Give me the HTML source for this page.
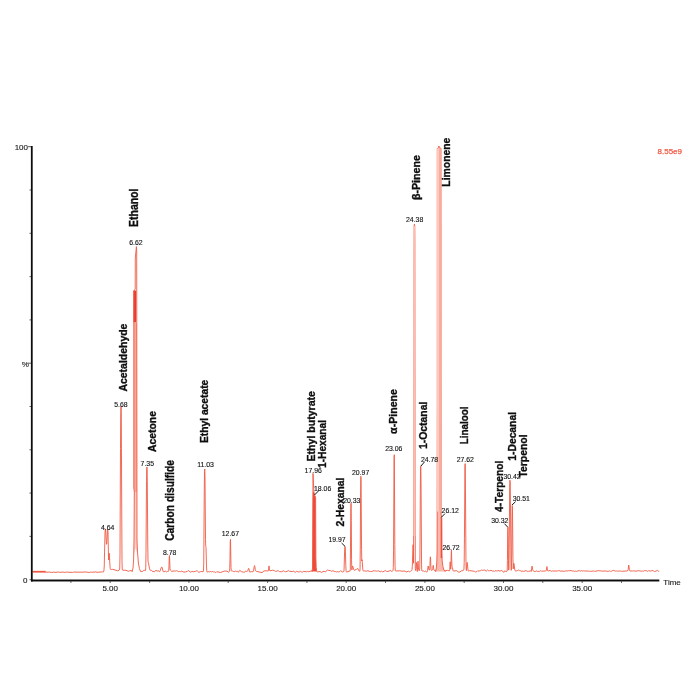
<!DOCTYPE html>
<html><head><meta charset="utf-8"><title>Chromatogram</title>
<style>
html,body{margin:0;padding:0;background:#fff;}
body{width:700px;height:700px;overflow:hidden;}
svg{display:block;}
text{font-family:"Liberation Sans",sans-serif;}
.c{font-weight:bold;font-size:12.5px;fill:#111;stroke:#111;stroke-width:0.35px;}
.t{font-size:6.9px;fill:#111;stroke:#111;stroke-width:0.12px;}
.a{font-size:8px;fill:#111;stroke:#111;stroke-width:0.1px;}
</style></head><body>
<svg width="700" height="700" viewBox="0 0 700 700">
<defs><filter id="b" x="-5%" y="-5%" width="110%" height="110%"><feGaussianBlur stdDeviation="0.35"/></filter><filter id="t" x="-2%" y="-2%" width="104%" height="104%"><feGaussianBlur stdDeviation="0.3"/></filter></defs>
<rect width="700" height="700" fill="#fff"/>
<g filter="url(#b)">
<polygon points="435.6,571.6 436.3,568.0 436.8,562.0 437.1,550.0 437.3,400.0 437.3,148.6 438.3,147.6 438.9,146.0 439.5,147.5 440.9,148.4 441.0,400.0 441.1,514.0 441.6,517.5 441.8,553.0 442.2,561.0 442.9,566.5 444.0,570.0 445.2,571.5" fill="#fbb8ac"/>
<polygon points="133.8,323.0 133.8,488.0 134.3,492.0 136.9,492.0 136.8,323.0" fill="#f9a595"/>
<polygon points="133.7,556.0 134.0,540.0 134.3,492.0 136.9,492.0 137.0,540.0 137.6,554.0 135.6,548.0" fill="#fccdc4"/>
<rect x="133.4" y="290.5" width="2.8" height="32" fill="#ea3a32"/>
<polygon points="312.8,500.0 312.9,492.0 313.9,492.0 314.7,495.2 315.6,497.5 315.9,558.0 316.2,567.5 316.8,571.5 312.1,571.6 312.5,568.0" fill="#ee4a3a"/>
<rect x="440.7" y="518" width="1.5" height="40" fill="#ec4033"/>
<line x1="32.8" y1="571.7" x2="45.5" y2="571.7" stroke="#ef5a44" stroke-width="1.7"/>
<path d="M32.80,571.7 L45.50,571.7 L45.50,572.2 L49.50,572.1 L51.75,572.5 L53.50,572.1 L55.00,572.4 L58.25,572.0 L59.25,572.3 L64.00,572.1 L64.75,572.5 L66.75,572.0 L67.75,572.2 L72.75,572.4 L73.50,572.1 L83.00,572.2 L83.75,572.0 L87.00,572.1 L89.25,572.5 L90.75,572.0 L91.75,572.3 L95.75,571.9 L97.00,572.3 L102.50,571.9 L103.25,572.1 L103.50,571.9 L103.75,571.1 L104.00,569.8 L104.25,566.0 L105.00,532.5 L105.25,528.9 L105.50,529.4 L105.75,532.0 L106.25,541.4 L106.50,544.3 L106.75,543.6 L107.50,530.3 L107.75,529.3 L108.00,531.7 L108.50,557.4 L108.75,560.0 L109.00,555.2 L109.25,553.3 L110.00,566.5 L110.25,568.6 L110.50,569.3 L111.75,569.5 L112.75,569.3 L117.75,570.8 L119.00,570.2 L119.50,569.8 L119.75,568.0 L120.00,554.3 L120.50,448.3 L120.75,412.5 L121.00,406.7 L121.25,414.0 L122.00,561.3 L122.25,569.5 L122.50,570.1 L124.00,570.3 L125.00,570.1 L127.00,570.6 L128.25,571.4 L129.75,570.7 L131.50,570.7 L132.00,570.3 L132.20,571.6 L133.00,568.0 L133.60,560.0 L134.00,540.0 L134.30,492.0 L133.80,488.0 L133.80,323.0 L133.90,291.0 L135.20,289.0 L135.30,258.0 L136.40,246.6 L136.70,251.0 L137.00,540.0 L137.50,552.0 L138.40,563.0 L139.40,568.5 L140.50,571.5 L140.75,571.3 L142.25,571.6 L143.25,570.7 L144.25,570.3 L145.25,570.6 L145.50,570.5 L145.75,567.9 L146.00,552.3 L146.50,481.3 L146.75,467.5 L147.00,467.0 L147.25,476.6 L147.75,544.1 L148.00,561.1 L148.25,562.7 L148.50,562.8 L149.50,568.8 L149.75,569.7 L150.00,570.2 L150.75,570.3 L151.25,570.2 L151.50,570.4 L152.25,571.3 L154.50,571.6 L156.00,570.3 L157.00,571.1 L158.50,570.9 L159.25,571.5 L159.75,571.6 L161.25,567.6 L161.50,567.1 L161.75,567.0 L162.00,567.1 L162.25,567.8 L163.00,571.1 L163.25,571.6 L163.50,571.9 L164.00,571.9 L165.25,571.1 L166.50,571.9 L167.25,571.4 L168.25,571.4 L168.50,571.3 L168.75,570.2 L169.00,565.3 L169.25,556.9 L169.50,555.5 L170.00,568.9 L170.25,570.2 L170.50,570.2 L171.75,571.4 L174.00,570.9 L175.50,571.1 L176.50,570.7 L177.25,570.9 L178.50,571.6 L179.75,571.5 L180.50,571.6 L181.50,571.2 L183.75,572.0 L185.25,572.0 L187.50,571.3 L188.50,570.3 L190.25,572.2 L191.25,571.8 L192.00,571.2 L193.25,571.8 L195.50,571.3 L196.25,570.8 L197.50,571.1 L198.75,572.3 L199.00,572.4 L200.25,571.6 L203.00,571.7 L203.25,571.6 L203.50,570.9 L203.75,563.0 L204.25,492.8 L204.50,471.3 L204.75,469.0 L205.00,476.7 L205.50,539.4 L205.75,546.2 L206.00,547.3 L206.50,566.1 L206.75,570.7 L207.00,571.9 L207.25,572.0 L208.75,571.6 L209.50,571.8 L210.50,571.5 L211.50,571.8 L212.50,571.5 L213.50,571.9 L214.75,571.9 L215.50,572.6 L215.75,572.7 L216.75,571.7 L220.50,572.5 L224.25,571.1 L227.00,571.1 L228.50,572.3 L229.25,571.3 L229.50,570.8 L229.75,568.2 L230.00,558.3 L230.25,541.7 L230.50,539.4 L231.00,567.6 L231.25,570.7 L231.50,571.0 L232.25,570.9 L233.25,571.5 L234.25,571.7 L235.25,571.0 L236.25,571.5 L237.25,571.1 L238.25,572.2 L238.50,572.2 L239.50,570.6 L239.75,570.3 L241.25,571.6 L243.50,572.1 L244.00,572.5 L244.25,572.6 L245.25,571.2 L245.50,571.1 L246.75,571.5 L247.25,571.4 L247.75,570.6 L248.50,568.5 L248.75,568.3 L249.00,568.9 L249.50,571.8 L249.75,572.1 L251.50,571.6 L253.00,571.7 L253.25,571.5 L253.50,571.0 L254.25,566.4 L254.50,565.6 L254.75,566.2 L255.25,569.3 L255.50,570.4 L255.75,571.0 L256.25,571.3 L262.00,572.6 L264.00,570.9 L267.00,570.8 L268.25,571.0 L268.50,570.7 L269.00,565.9 L269.50,570.4 L269.75,570.7 L271.00,570.7 L272.25,570.2 L274.50,570.7 L275.75,571.5 L276.00,571.5 L277.25,570.8 L278.50,570.9 L279.50,571.6 L281.75,571.7 L283.25,570.8 L283.50,570.8 L284.75,571.6 L285.50,571.8 L287.00,571.4 L288.25,570.6 L288.50,570.6 L289.25,571.2 L292.25,571.6 L293.75,571.1 L294.75,572.3 L295.50,572.1 L296.50,571.4 L296.75,571.3 L298.25,571.9 L299.25,571.9 L300.75,571.3 L301.50,572.0 L302.50,572.1 L303.75,571.3 L306.25,571.8 L307.75,571.3 L308.75,571.7 L310.00,571.4 L311.00,570.8 L312.00,571.0 L312.10,571.6 L312.50,568.0 L313.00,473.4 L313.90,492.0 L314.70,495.2 L315.60,497.5 L315.90,558.0 L316.20,567.5 L316.80,571.5 L317.05,571.8 L317.30,571.9 L320.05,571.5 L321.30,572.4 L324.05,571.2 L325.05,572.1 L327.55,570.0 L327.80,569.9 L328.80,570.5 L330.30,570.5 L331.80,571.4 L332.80,570.6 L333.05,570.7 L334.05,571.4 L335.30,571.5 L336.30,572.0 L337.05,571.5 L337.30,571.5 L338.05,572.0 L339.55,571.7 L340.55,570.7 L340.80,570.7 L342.30,572.1 L343.55,571.6 L343.80,571.6 L344.05,569.9 L344.55,553.0 L344.80,547.3 L345.05,546.4 L345.30,548.0 L345.80,565.6 L346.05,570.6 L346.30,571.8 L346.55,572.1 L349.80,571.0 L350.05,571.1 L350.30,569.5 L350.80,508.9 L351.05,503.2 L351.30,520.5 L351.55,559.9 L351.80,570.0 L352.05,568.9 L352.30,567.1 L352.55,566.0 L352.80,566.2 L353.55,569.2 L353.80,569.9 L354.05,570.2 L354.80,570.3 L356.05,569.3 L356.30,569.3 L356.55,569.4 L357.30,568.6 L357.80,568.4 L358.55,570.3 L358.80,570.7 L359.80,571.2 L360.05,569.0 L360.30,545.2 L360.55,497.4 L360.80,476.2 L361.05,477.5 L361.55,549.6 L361.80,561.0 L362.05,559.7 L362.80,569.2 L363.05,570.6 L363.30,571.0 L363.55,571.1 L364.80,570.8 L366.30,571.3 L367.05,570.7 L370.55,571.5 L371.80,571.5 L374.05,570.5 L374.30,570.6 L374.80,571.3 L375.05,571.3 L375.80,570.6 L376.55,571.2 L377.55,570.9 L378.55,570.9 L380.30,571.8 L381.30,571.1 L382.55,571.8 L382.80,571.9 L384.80,570.8 L385.80,570.7 L386.55,571.4 L386.80,571.5 L389.05,571.2 L390.30,570.2 L391.30,571.4 L392.05,571.3 L392.80,570.8 L393.05,570.4 L393.30,567.4 L393.55,550.2 L394.05,459.3 L394.30,454.7 L394.80,544.3 L395.05,566.4 L395.30,570.7 L395.55,571.0 L399.80,570.8 L402.05,571.2 L405.05,571.0 L405.80,571.8 L407.05,571.9 L408.05,571.0 L408.30,571.1 L409.55,571.9 L409.80,571.9 L410.80,570.8 L411.55,570.6 L411.80,570.4 L412.05,569.5 L412.30,566.3 L413.05,544.7 L413.30,550.5 L413.55,563.3 L413.80,472.2 L414.05,260.5 L414.30,224.3 L414.55,224.2 L414.80,243.5 L415.30,568.3 L415.55,570.5 L415.80,570.3 L416.05,569.3 L416.55,562.5 L416.80,564.8 L417.05,569.6 L417.30,571.5 L417.55,569.1 L417.80,563.6 L418.05,561.2 L418.55,569.3 L418.80,570.5 L419.05,570.6 L419.55,570.5 L419.80,567.0 L420.05,541.0 L420.30,492.2 L420.55,466.8 L420.80,465.8 L421.05,484.4 L421.55,564.8 L421.80,570.8 L422.05,571.0 L423.30,570.8 L424.30,571.5 L424.55,571.5 L425.30,570.9 L425.55,571.0 L426.55,572.1 L426.80,572.2 L427.30,571.5 L427.55,570.5 L428.05,566.4 L428.30,566.0 L428.80,569.3 L429.05,570.0 L429.30,570.1 L429.55,570.0 L429.80,568.8 L430.30,556.8 L430.55,557.9 L430.80,565.1 L431.05,569.4 L431.30,570.3 L432.05,570.3 L432.30,570.2 L432.55,569.8 L432.80,568.2 L433.05,565.7 L433.30,565.3 L433.80,569.7 L434.05,570.2 L435.55,570.7 L435.60,571.6 L436.30,568.0 L436.80,562.0 L437.10,550.0 L437.30,400.0 L437.30,148.6 L438.30,147.6 L438.90,146.0 L439.50,147.5 L440.90,148.4 L441.10,514.0 L441.60,517.5 L441.80,553.0 L442.20,561.0 L442.90,566.5 L444.00,570.0 L445.20,571.5 L445.45,570.4 L445.95,570.7 L447.20,570.3 L449.20,570.8 L449.45,570.8 L449.70,569.8 L450.20,561.8 L450.70,569.2 L450.95,566.5 L451.20,555.6 L451.45,550.2 L451.95,566.3 L452.20,566.5 L452.45,567.4 L452.95,570.4 L453.20,571.0 L453.45,571.0 L456.45,570.7 L457.20,570.8 L458.20,572.1 L458.45,572.2 L459.95,571.9 L461.45,570.8 L462.95,570.7 L463.70,570.1 L463.95,569.1 L464.20,562.6 L464.45,538.2 L464.95,466.0 L465.20,463.6 L465.45,488.1 L465.95,559.9 L466.20,569.5 L466.45,570.6 L466.70,568.1 L466.95,563.5 L467.20,562.4 L467.95,569.3 L468.20,570.6 L468.45,571.1 L468.70,571.1 L469.70,570.6 L474.45,571.3 L475.45,572.0 L476.95,571.6 L477.95,570.5 L478.70,571.2 L480.70,570.6 L481.70,570.0 L482.70,570.4 L484.20,570.0 L484.95,570.2 L486.20,571.2 L487.45,570.1 L487.70,570.0 L488.45,570.7 L489.70,570.8 L490.95,570.2 L492.45,571.1 L493.20,570.8 L494.20,571.6 L494.95,570.8 L496.20,570.7 L496.95,571.1 L497.20,571.1 L497.95,570.5 L500.45,571.2 L501.20,570.1 L501.45,570.1 L503.70,572.4 L504.45,570.9 L505.95,571.4 L506.95,571.3 L507.20,571.0 L507.45,560.5 L507.70,532.1 L507.95,526.9 L508.20,535.4 L508.45,559.3 L508.70,570.2 L508.95,568.0 L509.20,550.6 L509.70,487.1 L509.95,480.2 L510.20,482.3 L510.45,501.4 L510.95,563.5 L511.20,570.4 L511.45,569.4 L511.70,553.0 L511.95,520.0 L512.20,505.5 L512.45,506.6 L512.95,558.5 L513.20,568.9 L513.70,563.5 L513.95,563.3 L514.70,569.0 L514.95,570.2 L515.20,570.8 L515.45,571.0 L517.20,570.8 L518.20,570.0 L518.45,570.0 L519.70,570.7 L520.70,570.8 L521.95,571.5 L522.95,570.9 L523.70,571.5 L525.95,570.5 L526.20,570.6 L527.20,571.4 L528.20,571.2 L528.95,571.5 L530.45,570.6 L530.70,570.8 L531.20,571.5 L531.45,571.2 L531.95,566.1 L532.20,566.4 L532.70,569.7 L532.95,570.5 L534.95,571.9 L535.20,571.5 L536.20,570.9 L537.70,571.4 L539.45,571.4 L540.45,570.7 L541.45,571.2 L545.20,571.0 L545.95,570.7 L546.20,570.7 L546.45,569.9 L546.70,567.6 L546.95,566.5 L547.45,570.0 L547.70,570.8 L547.95,571.0 L548.70,570.9 L549.95,570.4 L551.45,571.3 L552.20,571.0 L557.45,571.0 L558.70,570.6 L560.95,571.2 L561.95,571.0 L564.70,571.3 L565.70,570.9 L567.20,571.0 L568.70,570.6 L569.95,570.9 L570.95,570.5 L572.20,571.0 L573.95,571.0 L574.70,571.4 L575.70,571.1 L576.70,571.4 L579.20,570.5 L580.20,571.3 L581.20,570.6 L582.45,571.0 L583.45,570.8 L584.70,571.1 L585.95,570.9 L588.20,571.1 L588.70,571.3 L589.70,571.1 L590.70,571.4 L593.45,570.9 L594.70,571.4 L598.20,570.7 L600.95,570.9 L601.70,571.1 L606.20,571.0 L606.95,571.4 L608.70,571.2 L609.20,571.0 L609.45,570.9 L610.45,571.3 L611.70,571.2 L612.95,570.4 L613.20,570.3 L615.45,571.1 L616.45,571.0 L617.45,571.2 L618.20,571.0 L620.70,571.1 L621.45,571.3 L626.45,571.0 L627.95,570.6 L628.20,569.6 L628.70,565.1 L628.95,566.1 L629.45,569.8 L629.70,570.7 L629.95,571.0 L632.45,571.0 L633.45,570.8 L635.95,571.2 L638.45,570.7 L641.45,571.2 L642.45,571.0 L643.70,571.2 L644.70,570.5 L646.70,570.9 L647.45,571.3 L648.20,570.7 L648.45,570.7 L650.45,571.1 L652.20,570.5 L653.20,570.8 L654.45,571.6 L657.45,570.5 L658.45,571.2 L659.20,571.3" fill="none" stroke="#ef5a44" stroke-width="1" stroke-linejoin="round" stroke-opacity="0.9"/>
<rect x="436.8" y="148.6" width="2.3" height="363" fill="#fdc9be"/>
<rect x="439.1" y="148.6" width="2.4" height="363" fill="#f9ac9c"/>
<rect x="413.35" y="226" width="2.2" height="310" fill="#fcbcb0"/>
</g>
<g filter="url(#t)">
<line x1="31.8" y1="146" x2="31.8" y2="581.4" stroke="#111" stroke-width="1.8"/>
<line x1="31" y1="580.5" x2="659.3" y2="580.5" stroke="#111" stroke-width="1.8"/>
<line x1="28" y1="146.7" x2="31" y2="146.7" stroke="#333" stroke-width="0.8"/>
<line x1="29.5" y1="190.0" x2="31" y2="190.0" stroke="#333" stroke-width="0.8"/>
<line x1="29.5" y1="233.3" x2="31" y2="233.3" stroke="#333" stroke-width="0.8"/>
<line x1="29.5" y1="276.6" x2="31" y2="276.6" stroke="#333" stroke-width="0.8"/>
<line x1="29.5" y1="319.9" x2="31" y2="319.9" stroke="#333" stroke-width="0.8"/>
<line x1="28" y1="363.2" x2="31" y2="363.2" stroke="#333" stroke-width="0.8"/>
<line x1="29.5" y1="406.5" x2="31" y2="406.5" stroke="#333" stroke-width="0.8"/>
<line x1="29.5" y1="449.8" x2="31" y2="449.8" stroke="#333" stroke-width="0.8"/>
<line x1="29.5" y1="493.1" x2="31" y2="493.1" stroke="#333" stroke-width="0.8"/>
<line x1="29.5" y1="536.4" x2="31" y2="536.4" stroke="#333" stroke-width="0.8"/>
<line x1="29.5" y1="579.7" x2="31" y2="579.7" stroke="#333" stroke-width="0.8"/>
<line x1="70.9" y1="581" x2="70.9" y2="583" stroke="#444" stroke-width="0.8"/>
<line x1="110.2" y1="581" x2="110.2" y2="583" stroke="#444" stroke-width="0.8"/>
<line x1="149.6" y1="581" x2="149.6" y2="583" stroke="#444" stroke-width="0.8"/>
<line x1="188.9" y1="581" x2="188.9" y2="583" stroke="#444" stroke-width="0.8"/>
<line x1="228.2" y1="581" x2="228.2" y2="583" stroke="#444" stroke-width="0.8"/>
<line x1="267.6" y1="581" x2="267.6" y2="583" stroke="#444" stroke-width="0.8"/>
<line x1="306.9" y1="581" x2="306.9" y2="583" stroke="#444" stroke-width="0.8"/>
<line x1="346.2" y1="581" x2="346.2" y2="583" stroke="#444" stroke-width="0.8"/>
<line x1="385.5" y1="581" x2="385.5" y2="583" stroke="#444" stroke-width="0.8"/>
<line x1="424.9" y1="581" x2="424.9" y2="583" stroke="#444" stroke-width="0.8"/>
<line x1="464.2" y1="581" x2="464.2" y2="583" stroke="#444" stroke-width="0.8"/>
<line x1="503.5" y1="581" x2="503.5" y2="583" stroke="#444" stroke-width="0.8"/>
<line x1="542.8" y1="581" x2="542.8" y2="583" stroke="#444" stroke-width="0.8"/>
<line x1="582.2" y1="581" x2="582.2" y2="583" stroke="#444" stroke-width="0.8"/>
<line x1="621.5" y1="581" x2="621.5" y2="583" stroke="#444" stroke-width="0.8"/>
<text class="a" x="110.2" y="591.2" text-anchor="middle">5.00</text>
<text class="a" x="188.9" y="591.2" text-anchor="middle">10.00</text>
<text class="a" x="267.6" y="591.2" text-anchor="middle">15.00</text>
<text class="a" x="346.2" y="591.2" text-anchor="middle">20.00</text>
<text class="a" x="424.9" y="591.2" text-anchor="middle">25.00</text>
<text class="a" x="503.5" y="591.2" text-anchor="middle">30.00</text>
<text class="a" x="582.2" y="591.2" text-anchor="middle">35.00</text>
<text class="a" x="28" y="150" text-anchor="end">100</text>
<text class="a" x="28.8" y="366.7" text-anchor="end">%</text>
<text class="a" x="27.4" y="583.2" text-anchor="end">0</text>
<text class="a" x="663.3" y="584.5">Time</text>
<text class="a" x="682" y="153.8" text-anchor="end" style="fill:#ef5a44;stroke:#ef5a44;stroke-width:0.25px">8.55e9</text>
<line x1="319.1" y1="490.3" x2="314.5" y2="495" stroke="#1a1a1a" stroke-width="1"/>
<line x1="341.6" y1="543" x2="345" y2="546.4" stroke="#1a1a1a" stroke-width="1"/>
<line x1="424.4" y1="462" x2="421" y2="466" stroke="#1a1a1a" stroke-width="1"/>
<line x1="445" y1="513.6" x2="441" y2="517.6" stroke="#1a1a1a" stroke-width="1"/>
<line x1="504.4" y1="523.6" x2="507.6" y2="527" stroke="#1a1a1a" stroke-width="1"/>
<line x1="515.6" y1="501.6" x2="512" y2="505" stroke="#1a1a1a" stroke-width="1"/>
<text class="t" x="107.7" y="529.5" text-anchor="middle">4.64</text>
<text class="t" x="121.0" y="406.5" text-anchor="middle">5.68</text>
<text class="t" x="136.0" y="244.9" text-anchor="middle">6.62</text>
<text class="t" x="147.3" y="466.1" text-anchor="middle">7.35</text>
<text class="t" x="169.7" y="554.5" text-anchor="middle">8.78</text>
<text class="t" x="205.5" y="466.9" text-anchor="middle">11.03</text>
<text class="t" x="230.4" y="536.1" text-anchor="middle">12.67</text>
<text class="t" x="313.2" y="472.5" text-anchor="middle">17.96</text>
<text class="t" x="322.6" y="490.7" text-anchor="middle">18.06</text>
<text class="t" x="337.0" y="542.1" text-anchor="middle">19.97</text>
<text class="t" x="351.8" y="503.0" text-anchor="middle">20.33</text>
<text class="t" x="360.6" y="474.9" text-anchor="middle">20.97</text>
<text class="t" x="393.8" y="450.5" text-anchor="middle">23.06</text>
<text class="t" x="414.6" y="222.1" text-anchor="middle">24.38</text>
<text class="t" x="429.5" y="461.5" text-anchor="middle">24.78</text>
<text class="t" x="450.2" y="512.5" text-anchor="middle">26.12</text>
<text class="t" x="451.0" y="549.5" text-anchor="middle">26.72</text>
<text class="t" x="465.3" y="461.7" text-anchor="middle">27.62</text>
<text class="t" x="499.8" y="522.9" text-anchor="middle">30.32</text>
<text class="t" x="512.0" y="479.1" text-anchor="middle">30.42</text>
<text class="t" x="521.3" y="500.9" text-anchor="middle">30.51</text>
<text class="c" style="font-size:11.7px" transform="translate(126.5,391.6) rotate(-90)" textLength="68.0" lengthAdjust="spacingAndGlyphs">Acetaldehyde</text>
<text class="c" style="font-size:12.1px" transform="translate(138.3,226.9) rotate(-90)" textLength="38.3" lengthAdjust="spacingAndGlyphs">Ethanol</text>
<text class="c" style="font-size:11.5px" transform="translate(156.1,452) rotate(-90)" textLength="41.0" lengthAdjust="spacingAndGlyphs">Acetone</text>
<text class="c" style="font-size:12.2px" transform="translate(173.6,540.8) rotate(-90)" textLength="80.8" lengthAdjust="spacingAndGlyphs">Carbon disulfide</text>
<text class="c" style="font-size:11.3px" transform="translate(208.3,443.1) rotate(-90)" textLength="63.4" lengthAdjust="spacingAndGlyphs">Ethyl acetate</text>
<text class="c" style="font-size:11.7px" transform="translate(314.9,461.5) rotate(-90)" textLength="70.5" lengthAdjust="spacingAndGlyphs">Ethyl butyrate</text>
<text class="c" style="font-size:11.6px" transform="translate(326.2,467.9) rotate(-90)" textLength="47.9" lengthAdjust="spacingAndGlyphs">1-Hexanal</text>
<text class="c" style="font-size:11.6px" transform="translate(344.1,526.5) rotate(-90)" textLength="48.9" lengthAdjust="spacingAndGlyphs">2-Hexanal</text>
<text class="c" style="font-size:10.9px" transform="translate(396.9,433.9) rotate(-90)" textLength="44.9" lengthAdjust="spacingAndGlyphs">α-Pinene</text>
<text class="c" style="font-size:11.3px" transform="translate(420.3,200.1) rotate(-90)" textLength="45.1" lengthAdjust="spacingAndGlyphs">β-Pinene</text>
<text class="c" style="font-size:11.5px" transform="translate(450.2,186.7) rotate(-90)" textLength="49.1" lengthAdjust="spacingAndGlyphs">Limonene</text>
<text class="c" style="font-size:11.6px" transform="translate(427.1,449) rotate(-90)" textLength="47.4" lengthAdjust="spacingAndGlyphs">1-Octanal</text>
<text class="c" style="font-size:11.2px" transform="translate(467.7,444.2) rotate(-90)" textLength="37.8" lengthAdjust="spacingAndGlyphs">Linalool</text>
<text class="c" style="font-size:11.6px" transform="translate(503.1,512) rotate(-90)" textLength="51.3" lengthAdjust="spacingAndGlyphs">4-Terpenol</text>
<text class="c" style="font-size:11.2px" transform="translate(515.6,460.7) rotate(-90)" textLength="48.7" lengthAdjust="spacingAndGlyphs">1-Decanal</text>
<text class="c" style="font-size:11.4px" transform="translate(526.9,477.6) rotate(-90)" textLength="43.2" lengthAdjust="spacingAndGlyphs">Terpenol</text>
</g>
</svg>
</body></html>
